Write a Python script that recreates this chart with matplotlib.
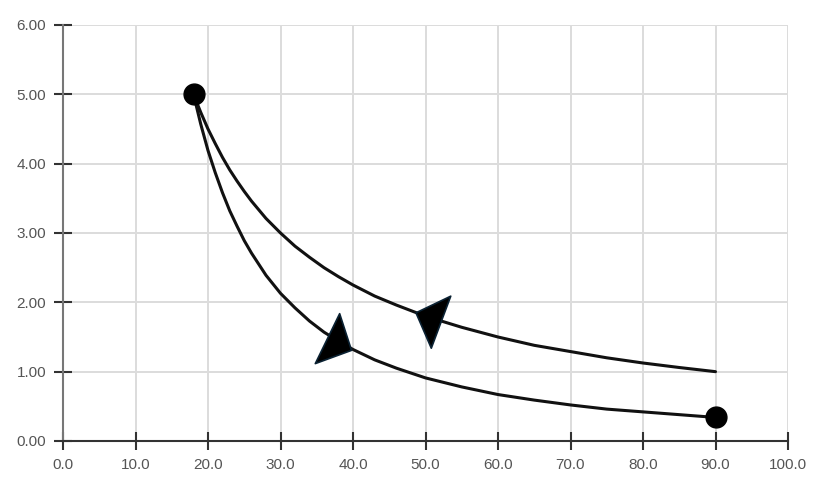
import matplotlib
matplotlib.use("Agg")
import matplotlib.pyplot as plt
from matplotlib.markers import MarkerStyle
from matplotlib.path import Path
from matplotlib.transforms import Affine2D

# Data
lower_x = [18, 19, 20, 21, 22, 23, 24, 25, 26, 28, 30, 32, 34, 36, 38, 40,
           43, 46, 50, 55, 60, 65, 70, 75, 80, 85, 90]
lower_y = [5.0, 4.57, 4.19, 3.87, 3.58, 3.32, 3.10, 2.89, 2.71, 2.39, 2.13,
           1.92, 1.73, 1.57, 1.44, 1.32, 1.17, 1.05, 0.91, 0.78, 0.67, 0.59,
           0.52, 0.46, 0.42, 0.38, 0.34]
upper_x = [18, 19, 20, 21, 22, 23, 24, 25, 26, 28, 30, 32, 34, 36, 38, 40,
           43, 46, 50, 55, 60, 65, 70, 75, 80, 85, 90]
upper_y = [5.0, 4.74, 4.5, 4.29, 4.09, 3.91, 3.75, 3.6, 3.46, 3.21, 3.0,
           2.81, 2.65, 2.5, 2.37, 2.25, 2.09, 1.96, 1.8, 1.64, 1.5, 1.38,
           1.29, 1.2, 1.125, 1.06, 1.0]
end_points_x = [18, 90]
end_points_y = [5.0, 0.34]
arrow_lower = (38.1, 1.40)
arrow_upper = (50.3, 1.79)
x_ticks = [0, 10, 20, 30, 40, 50, 60, 70, 80, 90, 100]
y_ticks = [0, 1, 2, 3, 4, 5, 6]

plt.rcParams['font.family'] = ['Liberation Sans', 'DejaVu Sans']

fig = plt.figure(figsize=(8.18, 4.92), dpi=100)
ax = fig.add_axes([63/818, 1 - 441/492, (788-63)/818, (441-25)/492])

ax.set_xlim(0, 100)
ax.set_ylim(0, 6)
ax.set_xticks(x_ticks)
ax.set_yticks(y_ticks)
ax.set_xticklabels([f"{v:.1f}" for v in x_ticks])
ax.set_yticklabels([f"{v:.2f}" for v in y_ticks])

ax.grid(True, color='#dcdcdc', linewidth=1.4, zorder=0)
ax.set_axisbelow(True)
for s in ['top', 'right']:
    ax.spines[s].set_visible(False)
ax.spines['left'].set_color('#777777')
ax.spines['left'].set_linewidth(1.5)
ax.spines['bottom'].set_color('#333333')
ax.spines['bottom'].set_linewidth(1.5)
ax.tick_params(axis='both', direction='inout', length=13, width=1.5,
               color='#333333', labelcolor='#555555', labelsize=11)
ax.tick_params(axis='y', pad=5.5)
ax.tick_params(axis='x', pad=6)

ax.plot(lower_x, lower_y, color='#111111', linewidth=2.2, zorder=3,
        solid_capstyle='round', solid_joinstyle='round')
ax.plot(upper_x, upper_y, color='#111111', linewidth=2.2, zorder=3,
        solid_capstyle='round', solid_joinstyle='round')
ax.plot(end_points_x, end_points_y, 'o', color='black', markersize=15, zorder=5)

# Arrowhead marker: apex along +x
tri = Path([(13, 0), (-13, 27), (-13, -27), (13, 0)],
           [Path.MOVETO, Path.LINETO, Path.LINETO, Path.CLOSEPOLY])
for (px, py), ang in [(arrow_lower, -26), (arrow_upper, 159.5)]:
    m = MarkerStyle(tri, transform=Affine2D().rotate_deg(ang))
    ax.plot([px], [py], marker=m, markersize=40, color='black',
            markeredgecolor='#0b2233', markeredgewidth=1.2, linestyle='none', zorder=6)

fig.savefig('out.png', dpi=100)
